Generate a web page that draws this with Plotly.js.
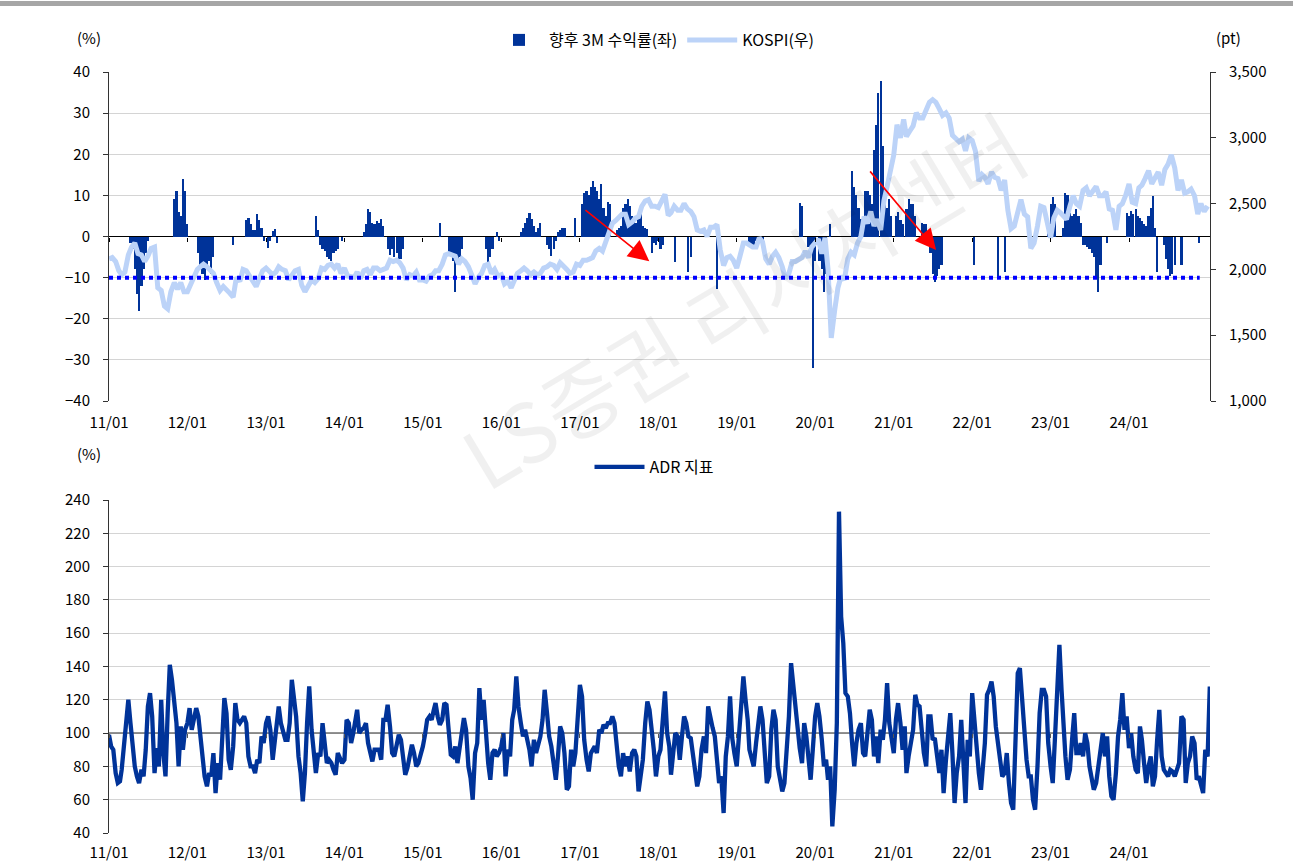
<!DOCTYPE html>
<html><head><meta charset="utf-8">
<script src="https://cdn.plot.ly/plotly-3.0.1.min.js"></script>
<style>html,body{margin:0;padding:0;background:#fff}#chart{width:1293px;height:867px}</style>
</head><body><div id="chart"></div>
<script>
// ---------- data ----------
const years = [2011,2012,2013,2014,2015,2016,2017,2018,2019,2020,2021,2022,2023,2024,2025];

// ADR indicator (%), three readings per month (1st, 11th, 21st)
const adr2011 = [99,92,90,76,70,71,78,90,106,120,106,92,80,74,70,78,74,90,116,124,110,76,91,80,120,88,74,112,141,132,120,106,80,104,90,102];
const adr2012 = [106,115,102,108,115,110,98,86,74,68,76,74,88,64,82,72,102,121,112,84,78,92,118,108,106,108,110,106,86,80,80,76,84,82,98,94];
const adr2013 = [106,110,102,84,94,103,116,106,102,96,96,106,132,119,110,86,76,59,76,106,128,102,88,76,88,86,106,94,82,84,82,78,75,88,84,82];
const adr2014 = [84,108,106,94,100,110,114,100,102,103,106,94,88,83,90,90,90,84,108,108,117,104,88,86,94,99,96,86,75,79,88,93,88,80,82,86];
const adr2015 = [92,99,108,110,108,114,118,110,105,108,118,117,98,87,86,92,82,90,100,109,102,80,73,60,88,94,127,108,120,98,82,72,88,90,86,88];
const adr2016 = [92,100,74,90,86,108,114,134,116,106,98,102,97,90,80,96,88,94,98,108,126,112,98,92,80,72,86,104,100,88,66,68,90,80,88,104];
const adr2017 = [129,122,96,84,77,88,90,92,88,102,100,105,103,106,106,110,106,92,80,74,88,80,86,77,88,90,86,65,76,84,106,119,114,104,90,74];
const adr2018 = [86,90,108,125,100,92,75,86,100,98,84,98,110,106,98,97,86,80,68,74,90,98,88,116,108,103,98,86,70,74,52,86,98,122,97,88];
const adr2019 = [80,98,112,134,120,108,90,86,80,94,106,116,108,90,70,74,102,114,108,80,72,65,70,88,110,142,128,116,102,91,82,106,98,86,72,90];
const adr2020 = [110,118,110,96,80,84,72,80,44,66,106,233,170,154,124,122,112,94,80,94,102,106,88,86,98,114,108,86,98,82,102,96,108,130,106,96];
const adr2021 = [88,108,118,106,90,104,76,86,94,102,123,117,116,100,88,80,110,110,96,97,87,76,90,64,84,96,112,88,58,76,86,108,76,58,96,86];
const adr2022 = [124,106,92,76,66,82,94,123,126,131,122,104,94,84,74,76,88,70,58,54,86,136,139,122,98,84,74,74,60,54,80,112,126,126,122,94];
const adr2023 = [80,70,96,122,153,126,102,86,72,78,96,112,88,88,94,86,100,94,80,72,66,70,80,86,100,86,98,74,62,60,76,98,108,124,102,110];
const adr2024 = [91,100,86,78,76,104,96,82,70,80,86,68,74,96,114,86,78,76,74,78,77,74,78,82,110,108,70,82,86,98,94,72,74,70,64,90];
const adr2025 = [86,128];

// forward 3M return (%), same dates as ADR
const ret2011 = [0,0,0,0,0,0,0,0,0,0,-1.5,-3,-8,-14,-18,-12,-8,-4,-1,0,0,0,0,0,0,0,0,0,0,0,9,11,6,5,14,11];
const ret2012 = [3,0,0,0,0,-4,-7,-9,-10.5,-8,-6,-9,-5,0,0,0,0,0,0,0,0,-2,0,0,0,0,0,4,4.5,3,1.5,1.5,5.4,4,2,-1];
const ret2013 = [0,-2.7,-1,1.4,1.8,-1.5,0,0,0,0,0,0,0,0,0,0,0,0,0,0,0,0,0,5,1.5,-2,-3,-3.5,-5,-5.5,-6,-4,-3.5,-3,0,-1];
const ret2014 = [0,0,0,0,0,0,0,0,0,1,3,6.6,6,3.4,3,3.8,3.4,4.2,2.6,0,-3,-4.5,-3,-5,-4,-5.5,-5.5,-3,0,0,0,0,0,0,0,0];
const ret2015 = [0,0,0,0,0,0,0,0,3.4,0,0,0,-4,-5,-6,-13.6,-6,-5,-3,0,0,0,0,0,0,0,0,0,0,-3,-6.3,-5,-3,0,1,-1];
const ret2016 = [0,0,0,0,0,0,0,0,0,1,2,3.4,4.5,5.8,4.2,2.5,1,2,3.4,0,0,-2,-3,-4.7,-3,-1,1,1.5,2,2,0,0,0,0,4.6,0];
const ret2017 = [0,8,10.5,11,10,12,13.5,12,11,9,12.7,7,5,8.5,8,0,0,1.5,2,2.6,7,8,9,7.5,5,4,3.4,4.5,5.8,2.6,2,1.8,0,-4,-1.5,-2];
const ret2018 = [-1,-3,-2,0,0,0,0,0,-6.3,0,0,0,0,0,-8.7,-5,0,0,0,0,0,0,0,0,0,0,0,-12.8,0,0,0,0,0,0,0,0];
const ret2019 = [0,0,0,0,0,0,-1.5,-2.3,-2.3,-1,0,0,-1.5,0,0,0,0,0,0,0,0,0,0,0,0,0,0,0,0,8.2,7.4,0,0,-2.5,-4,-32];
const ret2020 = [-6,0,-6,-8,-13.6,-9,0,3,0,0,0,0,0,0,0,0,0,16,12,10,7,4.2,2.6,11,11,10,8,21,27,35,37.8,22,9,7,9,5];
const ret2021 = [0,5,6,4,3,0,6.6,9,8,8,5,0,0,3.4,3,3,0,-4,-9,-11,-9.5,-8,-7,0,0,0,0,0,0,0,0,0,0,0,0,0];
const ret2022 = [0,-7,0,0,0,0,0,0,0,0,0,0,-9.5,0,0,-8.7,0,0,0,0,0,0,0,0,0,0,0,0,0,0,0,0,0,0,0,1.5];
const ret2023 = [8,9.5,8,0,0,0,2,10.7,10,5.8,5,5.5,6.6,5,3.4,-2,-2,-2.5,-3,-4,-5,-9.5,-13.6,-7,0,0,-1.5,0,0,0,0,0,0,0,0,5.8];
const ret2024 = [5,6.2,5.5,6.6,5,4.5,3.8,3,2.6,5,7,9.9,2,-8.7,0,0,-2,-5.5,-8,-9.5,-9,-7,0,0,-7,0,0,0,0,0,0,0,-1.5,0,0,0];
const ret2025 = [];

// KOSPI (pt), two readings per month (1st, 16th)
const kospi2011 = [2080,2090,2060,1990,1960,1980,2110,2170,2200,2120,2110,2060,2100,2160,2170,1860,1840,1720,1700,1830,1900,1850,1900,1830];
const kospi2012 = [1830,1890,1960,2000,2020,2040,2020,1990,1970,1900,1840,1870,1850,1820,1790,1940,1910,2000,1990,1950,1910,1870,1930,1990];
const kospi2013 = [2010,1990,1960,1980,2020,2000,1990,1920,1960,1990,2000,1880,1830,1870,1920,1900,1930,2010,2000,2030,2040,2010,2040,1970];
const kospi2014 = [2010,1950,1940,1940,1980,1930,1990,2000,1960,2010,2010,1990,2000,2010,2070,2060,2070,2050,2010,1920,1960,1950,1980,1920];
const kospi2015 = [1920,1910,1950,1960,1990,1990,2040,2110,2120,2110,2100,2040,2080,2060,2020,1960,1890,1940,1970,2030,2040,1970,2000,1950];
const kospi2016 = [1960,1890,1910,1860,1920,1970,1990,2010,1990,1960,1980,1960,1970,2010,2020,2040,2030,2000,2050,2030,2000,1970,1980,2040];
const kospi2017 = [2030,2070,2070,2080,2090,2140,2160,2140,2210,2290,2350,2370,2390,2420,2420,2340,2360,2390,2400,2480,2520,2530,2480,2480];
const kospi2018 = [2470,2510,2570,2410,2430,2480,2450,2450,2500,2460,2440,2400,2300,2290,2300,2250,2320,2320,2340,2150,2030,2090,2100,2070];
const kospi2019 = [2010,2100,2200,2200,2190,2170,2170,2240,2210,2080,2040,2100,2130,2090,2020,1930,1970,2060,2060,2070,2090,2140,2090,2170];
const kospi2020 = [2200,2230,2120,2240,2000,1480,1690,1860,1950,1920,2080,2130,2110,2200,2250,2400,2350,2440,2330,2380,2300,2520,2630,2760];
const kospi2021 = [2870,3100,3000,3140,3010,3050,3090,3190,3150,3150,3220,3270,3290,3270,3220,3170,3190,3150,3020,2990,2970,2990,2900,3000];
const kospi2022 = [2980,2900,2670,2720,2700,2650,2740,2700,2690,2600,2680,2450,2310,2330,2450,2530,2420,2400,2160,2200,2330,2480,2470,2370];
const kospi2023 = [2240,2390,2450,2430,2410,2380,2480,2560,2500,2480,2600,2620,2560,2600,2630,2560,2560,2590,2460,2450,2300,2480,2500,2560];
const kospi2024 = [2650,2510,2500,2620,2640,2690,2750,2650,2690,2740,2640,2760,2800,2870,2770,2600,2680,2580,2590,2610,2560,2420,2500,2440];
const kospi2025 = [2480];

const threshold = -10;     // dotted reference level (left axis)
const adrBase = 100;       // ADR reference level
const xTicks = ['11/01','12/01','13/01','14/01','15/01','16/01','17/01','18/01','19/01','20/01','21/01','22/01','23/01','24/01'];

// ---------- assemble ----------
const adrByYear = [adr2011,adr2012,adr2013,adr2014,adr2015,adr2016,adr2017,adr2018,adr2019,adr2020,adr2021,adr2022,adr2023,adr2024,adr2025];
const retByYear = [ret2011,ret2012,ret2013,ret2014,ret2015,ret2016,ret2017,ret2018,ret2019,ret2020,ret2021,ret2022,ret2023,ret2024,ret2025];
const kospiByYear = [kospi2011,kospi2012,kospi2013,kospi2014,kospi2015,kospi2016,kospi2017,kospi2018,kospi2019,kospi2020,kospi2021,kospi2022,kospi2023,kospi2024,kospi2025];

const pad = n => String(n).padStart(2,'0');
function gridDates(year, days, n){
  const out = [];
  for (let m = 1; m <= 12; m++) for (const d of days) out.push(year + '-' + pad(m) + '-' + pad(d));
  return out.slice(0, n);
}
function flatten(byYear, days){
  const xs = [], ys = [];
  byYear.forEach((arr, i) => {
    const ds = gridDates(years[i], days, arr.length);
    arr.forEach((v, j) => { xs.push(ds[j]); ys.push(v); });
  });
  return {xs, ys};
}
const adr = flatten(adrByYear, [1,11,21]);
const ret = flatten(retByYear, [1,11,21]);
const kos = flatten(kospiByYear, [1,16]);

const xRange = ['2011-01-01','2025-01-12'];
const tickVals = xTicks.map(t => '20' + t.slice(0,2) + '-01-01');

const FONT = "'Liberation Sans Narrow','Arial Narrow','Noto Sans CJK KR',sans-serif";
const KFONT = "'Liberation Sans Narrow','Noto Sans CJK KR',sans-serif";
const DAY = 86400000;

const traces = [
  {type:'bar', x: ret.xs, y: ret.ys, xaxis:'x', yaxis:'y', name:'향후 3M 수익률(좌)',
   marker:{color:'#003399', line:{width:0}}, width: 10*DAY, legend:'legend', hoverinfo:'x+y'},
  {type:'scatter', mode:'lines', x: kos.xs, y: kos.ys, xaxis:'x', yaxis:'y2', name:'KOSPI(우)',
   line:{color:'#bcd3f8', width:5}, legend:'legend'},
  {type:'scatter', mode:'lines', x:[adr.xs[0], '2024-11-25'], y:[threshold, threshold], xaxis:'x3', yaxis:'y',
   line:{color:'#0000ff', width:4, dash:'dot'}, showlegend:false, hoverinfo:'skip'},
  {type:'scatter', mode:'lines', x:[xRange[0], xRange[1]], y:[adrBase, adrBase], xaxis:'x2', yaxis:'y3',
   line:{color:'#6f6f6f', width:1.5}, showlegend:false, hoverinfo:'skip'},
  {type:'scatter', mode:'lines', x: adr.xs, y: adr.ys, xaxis:'x4', yaxis:'y3', name:'ADR 지표',
   line:{color:'#003399', width:4.3}, legend:'legend2'}
];

const W = 1293, H = 867, ML = 109, MR = 83, MT = 72, MB = 34;
const PW = W - ML - MR, PH = H - MT - MB;
const py = px => (H - MB - px) / PH;   // pixel row -> paper y
const pxX = px => (px - ML) / PW;      // pixel col -> paper x

const topDom = [py(401), 1];
const botDom = [0, py(500)];
const zeroPos = topDom[0] + (topDom[1]-topDom[0]) * (0 - (-40)) / 80;
const basePos = botDom[0] + (botDom[1]-botDom[0]) * (adrBase - 40) / 200;

const tickFont = {family: FONT, size: 15, color:'#000'};
const xCommon = {type:'date', range: xRange, tickmode:'array', tickvals: tickVals, ticktext: xTicks,
  showgrid:false, zeroline:false, tickfont: tickFont};
const tickOnly = {type:'date', range: xRange, tickmode:'array', tickvals: tickVals, showticklabels:false,
  showgrid:false, zeroline:false, showline:false, ticks:'outside', ticklen:4, tickcolor:'#000', tickwidth:1};
const yCommon = {showgrid:true, gridcolor:'#d4d4d4', gridwidth:1, showline:true, linecolor:'#333',
  ticks:'outside', ticklen:5, tickcolor:'#333', tickfont: tickFont, ticklabelstandoff: 10, fixedrange:true};

const layout = {
  width: W, height: H, margin:{l:ML, r:MR, t:MT, b:MB},
  paper_bgcolor:'#fff', plot_bgcolor:'#fff', bargap:0,
  font:{family: FONT, size:15, color:'#000'},
  xaxis: Object.assign({}, xCommon, {anchor:'y', showline:false, ticks:'', ticklabelstandoff: 11}),
  xaxis2: Object.assign({}, xCommon, {anchor:'y3', showline:false, ticks:'', ticklabelstandoff: 9}),
  xaxis3: Object.assign({}, tickOnly, {overlaying:'x', anchor:'free', position: zeroPos}),
  xaxis4: Object.assign({}, tickOnly, {overlaying:'x2', anchor:'free', position: basePos, tickcolor:'#555'}),
  yaxis: Object.assign({}, yCommon, {domain: topDom, range:[-40,40], dtick:10, anchor:'x',
    zeroline:true, zerolinecolor:'#000', zerolinewidth:1}),
  yaxis2: Object.assign({}, yCommon, {overlaying:'y', side:'right', range:[1000,3500], dtick:500,
    tickformat:',d', showgrid:false, zeroline:false, anchor:'x'}),
  yaxis3: Object.assign({}, yCommon, {domain: botDom, range:[40,240], dtick:20, anchor:'x2', zeroline:false}),
  legend: {orientation:'h', x: pxX(654), xanchor:'center', y: 1 + (MT-40)/PH, yanchor:'middle',
    font:{family: KFONT, size:16}, bgcolor:'rgba(0,0,0,0)', itemwidth:50, traceorder:'normal'},
  legend2: {orientation:'h', x: pxX(654), xanchor:'center', y: py(467), yanchor:'middle',
    font:{family: KFONT, size:16}, bgcolor:'rgba(0,0,0,0)', itemwidth:50},
  shapes: [
    {type:'rect', xref:'paper', yref:'paper', x0: pxX(0), x1: pxX(W), y0: py(6), y1: py(1),
     fillcolor:'#a6a6a6', line:{width:0}, layer:'above'}
  ],
  annotations: [
    {text:'(%)', xref:'paper', yref:'paper', x: pxX(75), y: py(25), showarrow:false, font:{family:FONT, size:15}},
    {text:'(pt)', xref:'paper', yref:'paper', x: pxX(1243), y: py(25), showarrow:false, font:{family:FONT, size:15}},
    {text:'(%)', xref:'paper', yref:'paper', x: pxX(75), y: py(453), showarrow:false, font:{family:FONT, size:15}},
    {text:'LS증권 리서치센터', xref:'paper', yref:'paper', x: pxX(742), y: py(298), xanchor:'center', yanchor:'middle',
     showarrow:false, textangle:-31,
     font:{family:"'Noto Sans CJK KR',sans-serif", size:82, color:'rgba(0,0,0,0.06)'}},
    {x:'2017-11-20', y:-6, ax:'2017-01-20', ay:6.7, xref:'x', yref:'y', axref:'x', ayref:'y',
     showarrow:true, arrowhead:2, arrowsize:2.6, arrowwidth:1.6, arrowcolor:'#ff0000', text:'', standoff:0},
    {x:'2021-07-17', y:-3.3, ax:'2020-09-07', ay:16.2, xref:'x', yref:'y', axref:'x', ayref:'y',
     showarrow:true, arrowhead:2, arrowsize:2.6, arrowwidth:1.6, arrowcolor:'#ff0000', text:'', standoff:0}
  ]
};

Plotly.newPlot('chart', traces, layout, {staticPlot:true, displayModeBar:false});
</script>
</body></html>
